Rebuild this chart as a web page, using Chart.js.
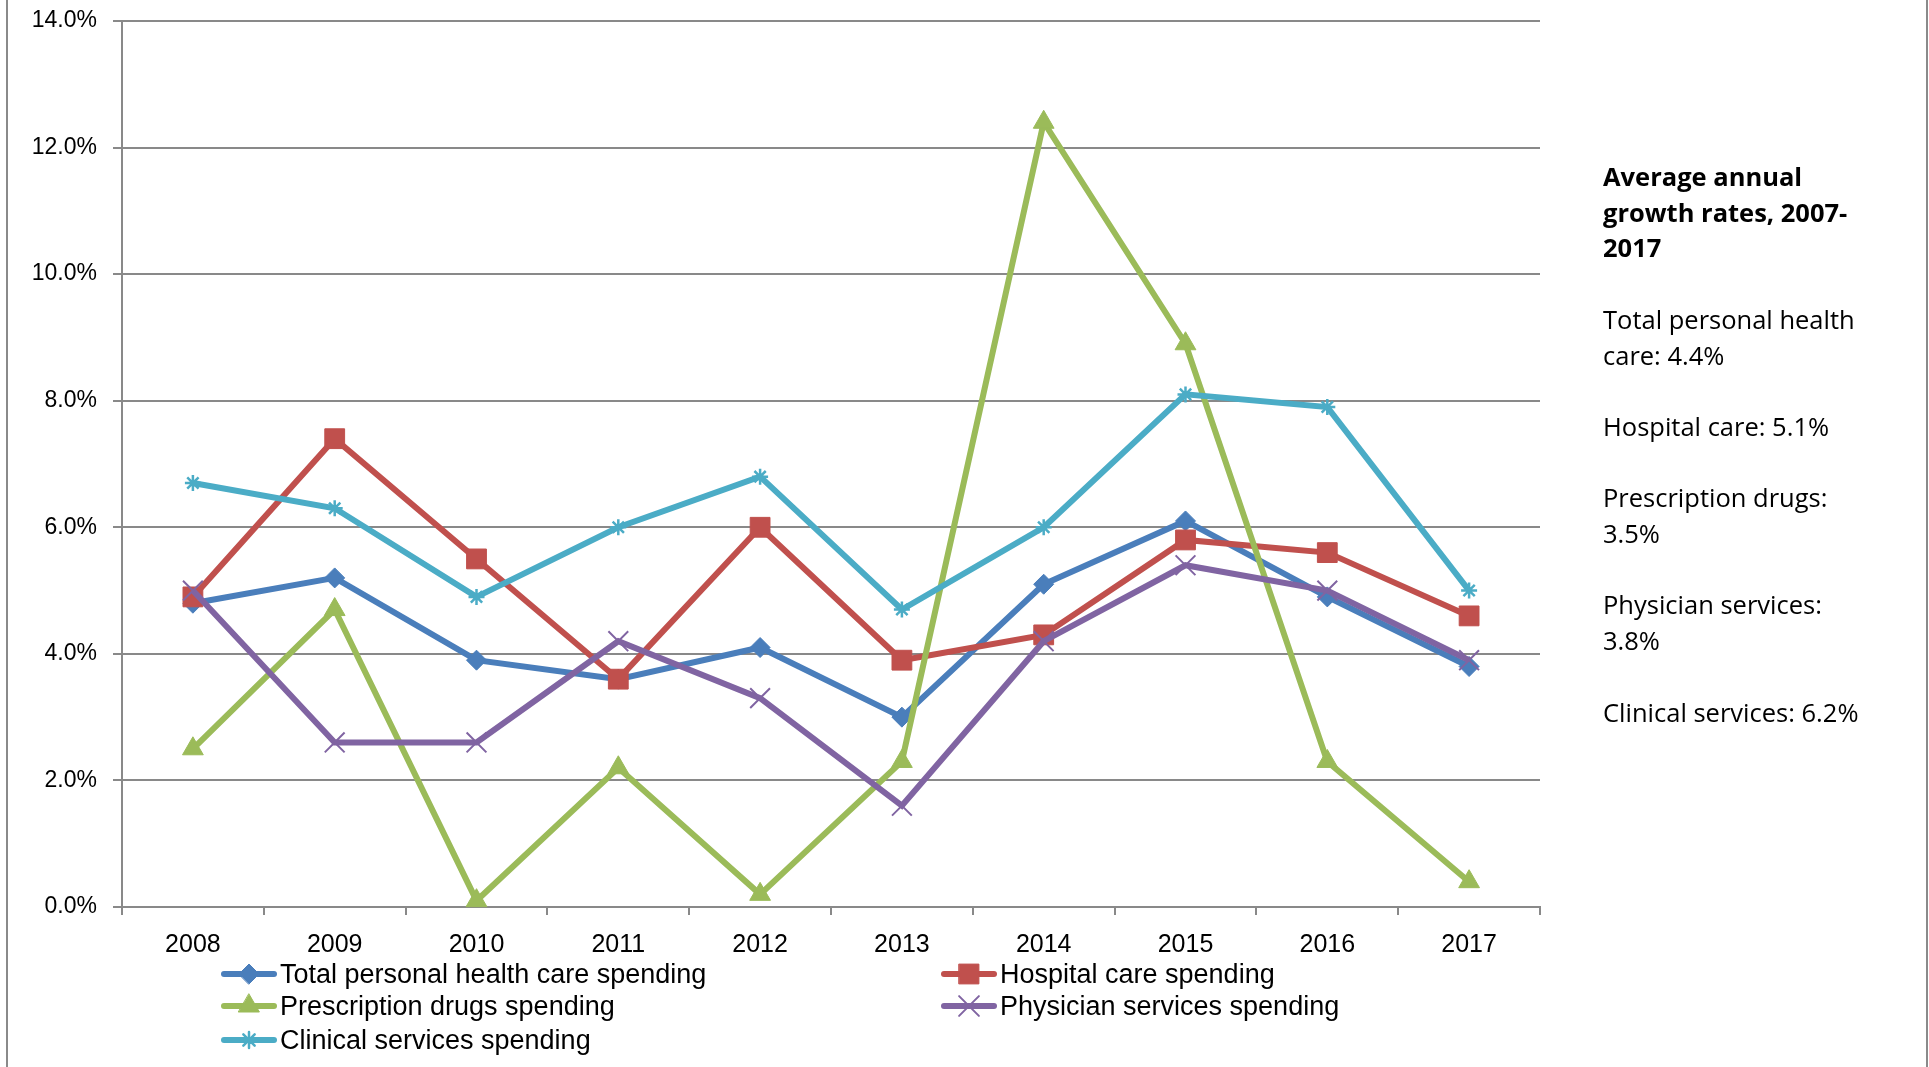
<!DOCTYPE html>
<html>
<head>
<meta charset="utf-8">
<script src="https://cdn.jsdelivr.net/npm/chart.js@4.4.0/dist/chart.umd.min.js"></script>
<style>
  html, body { margin: 0; padding: 0; background: #fff; }
  #wrap { position: relative; width: 1929px; height: 1067px; overflow: hidden; }
  #frame { position: absolute; left: 6px; top: 0; width: 1922px; height: 1067px; box-sizing: border-box;
           border-left: 2px solid #8a8a8a; border-right: 2px solid #8a8a8a; }
  #chart { position: absolute; left: 0; top: 0; }
  #note { position: absolute; left: 1603px; top: 159px; font-family: "Open Sans"; font-size: 25.5px;
          line-height: 35.7px; color: #000; white-space: nowrap; }
  #note b { font-weight: 700; }
  .legend-item { position: absolute; height: 32px; display: flex; align-items: center;
                 font-family: "Liberation Sans"; font-size: 27px; color: #000; white-space: nowrap; }
  .legend-item canvas { margin-right: 3px; }
</style>
</head>
<body>
<div id="wrap">
  <div id="frame"></div>
  <canvas id="chart" width="1929" height="1067"></canvas>
  <div id="note">
    <b>Average annual<br>growth rates, 2007-<br>2017</b><br><br>
    Total personal health<br>care: 4.4%<br><br>
    Hospital care: 5.1%<br><br>
    Prescription drugs:<br>3.5%<br><br>
    Physician services:<br>3.8%<br><br>
    Clinical services: 6.2%
  </div>
  <div id="legend"></div>
</div>
<script>
// values (annual growth, %)
const years = ['2008', '2009', '2010', '2011', '2012', '2013', '2014', '2015', '2016', '2017'];
const totalSpending = [4.8, 5.2, 3.9, 3.6, 4.1, 3.0, 5.1, 6.1, 4.9, 3.8];
const hospitalSpending = [4.9, 7.4, 5.5, 3.6, 6.0, 3.9, 4.3, 5.8, 5.6, 4.6];
const drugsSpending = [2.5, 4.7, 0.1, 2.2, 0.2, 2.3, 12.4, 8.9, 2.3, 0.4];
const physicianSpending = [5.0, 2.6, 2.6, 4.2, 3.3, 1.6, 4.2, 5.4, 5.0, 3.9];
const clinicalSpending = [6.7, 6.3, 4.9, 6.0, 6.8, 4.7, 6.0, 8.1, 7.9, 5.0];
const seriesNames = ['Total personal health care spending', 'Hospital care spending',
  'Prescription drugs spending', 'Physician services spending', 'Clinical services spending'];

const gridColor = '#898989';

function series(label, data, color, style, radius, pbw, order) {
  return {
    label: label, data: data, borderColor: color, backgroundColor: color,
    pointBackgroundColor: color, pointBorderColor: color,
    borderWidth: 6, pointStyle: style, pointRadius: radius, pointHoverRadius: radius,
    pointBorderWidth: pbw, tension: 0, clip: false, order: order
  };
}

const datasets = [
  series(seriesNames[0], totalSpending, '#4a7ebb', 'rectRot', 10, 1, 5),
  series(seriesNames[1], hospitalSpending, '#c0504d', 'rect', 14, 1, 4),
  series(seriesNames[2], drugsSpending, '#9bbb59', 'triangle', 12, 1, 3),
  series(seriesNames[3], physicianSpending, '#8064a2', 'crossRot', 14, 2, 2),
  series(seriesNames[4], clinicalSpending, '#4bacc6', 'star', 8, 2.5, 1)
];

const chart = new Chart(document.getElementById('chart'), {
  type: 'line',
  data: { labels: years, datasets: datasets },
  options: {
    responsive: false,
    animation: false,
    layout: { padding: { top: 21, right: 389, bottom: 100, left: 0 } },
    plugins: { legend: { display: false }, tooltip: { enabled: false } },
    scales: {
      x: {
        offset: true,
        grid: { offset: true, drawOnChartArea: false, drawTicks: true, tickLength: 8, color: gridColor, lineWidth: 2 },
        border: { color: gridColor, width: 2 },
        ticks: { color: '#000', padding: 15, maxRotation: 0,
                 font: { family: '"Liberation Sans"', size: 25 } },
        afterFit: function (scale) { scale.height = 60; }
      },
      y: {
        min: 0, max: 14,
        grid: { color: gridColor, lineWidth: 2, tickLength: 9 },
        border: { color: gridColor, width: 2 },
        ticks: { stepSize: 2, color: '#000', padding: 16,
                 font: { family: '"Liberation Sans"', size: 23, lineHeight: 0.4 },
                 callback: function (v) { return v.toFixed(1) + '%'; } },
        afterFit: function (scale) { scale.width = 122; }
      }
    }
  }
});

// legend laid out in two columns like the original
const legendSlots = [[221, 974], [941, 974], [221, 1006], [941, 1006], [221, 1040]];
const legendBox = document.getElementById('legend');
datasets.forEach(function (ds, i) {
  const item = document.createElement('div');
  item.className = 'legend-item';
  item.style.left = legendSlots[i][0] + 'px';
  item.style.top = (legendSlots[i][1] - 16) + 'px';
  const sw = document.createElement('canvas');
  sw.width = 56; sw.height = 32;
  const ctx = sw.getContext('2d');
  ctx.strokeStyle = ds.borderColor;
  ctx.lineWidth = ds.borderWidth;
  ctx.lineCap = 'round';
  ctx.beginPath(); ctx.moveTo(3, 16); ctx.lineTo(53, 16); ctx.stroke();
  ctx.fillStyle = ds.pointBackgroundColor;
  ctx.lineWidth = ds.pointBorderWidth;
  if (Chart.helpers && Chart.helpers.drawPoint) {
    Chart.helpers.drawPoint(ctx, { pointStyle: ds.pointStyle, radius: ds.pointRadius, borderWidth: ds.pointBorderWidth, rotation: 0 }, 28, 16);
  }
  item.appendChild(sw);
  const txt = document.createElement('span');
  txt.textContent = ds.label;
  item.appendChild(txt);
  legendBox.appendChild(item);
});
</script>
</body>
</html>
